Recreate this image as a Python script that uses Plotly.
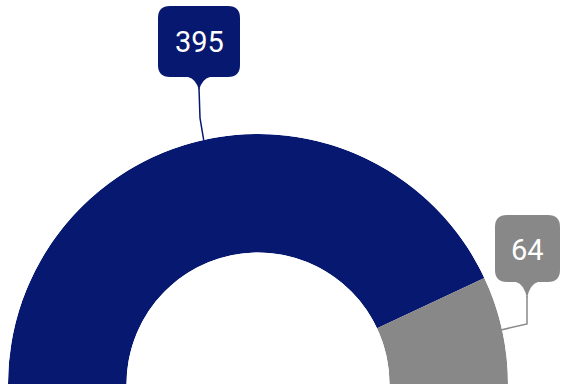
import math
import plotly.graph_objects as go

# ---- data ----
categories = ["A", "B"]
values = [395, 64]
colors = ["#06186f", "#888888"]
labels = ["395", "64"]

W, H = 562, 386
total = sum(values)

# angular positions (degrees over a half circle) derived from values
spans = [v / total * 180.0 for v in values]
centers = []
acc = 0.0
for s in spans:
    centers.append(acc + s / 2)
    acc += s

fig = go.Figure()
fig.add_trace(go.Barpolar(
    r=[1] * len(values),
    theta=centers,
    width=spans,
    marker=dict(color=colors, line=dict(width=0)),
    hoverinfo="skip",
    showlegend=False,
))

# polar geometry (pixels)
cx, cy, R = 258, 384, 250
dom_x = [(cx - R) / W, (cx + R) / W]
dom_y = [(H - cy) / H, (H - cy + R) / H]


def P(x, y):
    return f"{x / W:.5f},{1 - y / H:.5f}"


def anchor(theta_deg):
    a = math.radians(180 - theta_deg)
    return cx + R * math.cos(a), cy - R * math.sin(a)


def callout_path(l, r, t, b, c, tx, ty, pw):
    return (f"M {P(l + c, t)} L {P(r - c, t)} Q {P(r, t)} {P(r, t + c)} "
            f"L {P(r, b - c)} Q {P(r, b)} {P(r - c, b)} "
            f"L {P(tx + pw, b)} Q {P(tx + 3, b + 2)} {P(tx, ty)} "
            f"Q {P(tx - 3, b + 2)} {P(tx - pw, b)} "
            f"L {P(l + c, b)} Q {P(l, b)} {P(l, b - c)} "
            f"L {P(l, t + c)} Q {P(l, t)} {P(l + c, t)} Z")


# callout boxes: (left, right, top, bottom, tip_x, tip_y, elbow)
boxes = [
    dict(l=158, r=240, t=6, b=77, tx=199, ty=90, elbow=(200, 118)),
    dict(l=495, r=560, t=215, b=282, tx=527, ty=298, elbow=(527, 324)),
]

shapes = []
annotations = []
for i, bx in enumerate(boxes):
    ax_, ay_ = anchor(centers[i])
    shapes.append(dict(
        type="path", xref="paper", yref="paper",
        path=callout_path(bx["l"], bx["r"], bx["t"], bx["b"], 12,
                          bx["tx"], bx["ty"], 11),
        fillcolor=colors[i], line=dict(width=0),
    ))
    ex, ey = bx["elbow"]
    shapes.append(dict(
        type="path", xref="paper", yref="paper",
        path=f"M {P(bx['tx'], bx['ty'] - 2)} L {P(ex, ey)} L {P(ax_, ay_)}",
        line=dict(color=colors[i], width=1.5),
    ))
    annotations.append(dict(
        x=(bx["l"] + bx["r"]) / 2 / W,
        y=1 - ((bx["t"] + bx["b"]) / 2 + 1) / H,
        xref="paper", yref="paper", showarrow=False,
        text=labels[i], xanchor="center", yanchor="middle",
        font=dict(family="Roboto", size=29, color="white"),
    ))

fig.update_layout(
    width=W, height=H,
    margin=dict(l=0, r=0, t=0, b=0),
    paper_bgcolor="white",
    plot_bgcolor="white",
    showlegend=False,
    polar=dict(
        domain=dict(x=dom_x, y=dom_y),
        sector=[0, 180],
        hole=0.526,
        bgcolor="rgba(0,0,0,0)",
        radialaxis=dict(visible=False, range=[0, 1]),
        angularaxis=dict(visible=False, rotation=180, direction="clockwise",
                         showgrid=False, showline=False, ticks=""),
        barmode="overlay",
    ),
    shapes=shapes,
    annotations=annotations,
)

fig.write_html("out.html", config={"displayModeBar": False},
               post_script="document.body.style.margin='0px';")
